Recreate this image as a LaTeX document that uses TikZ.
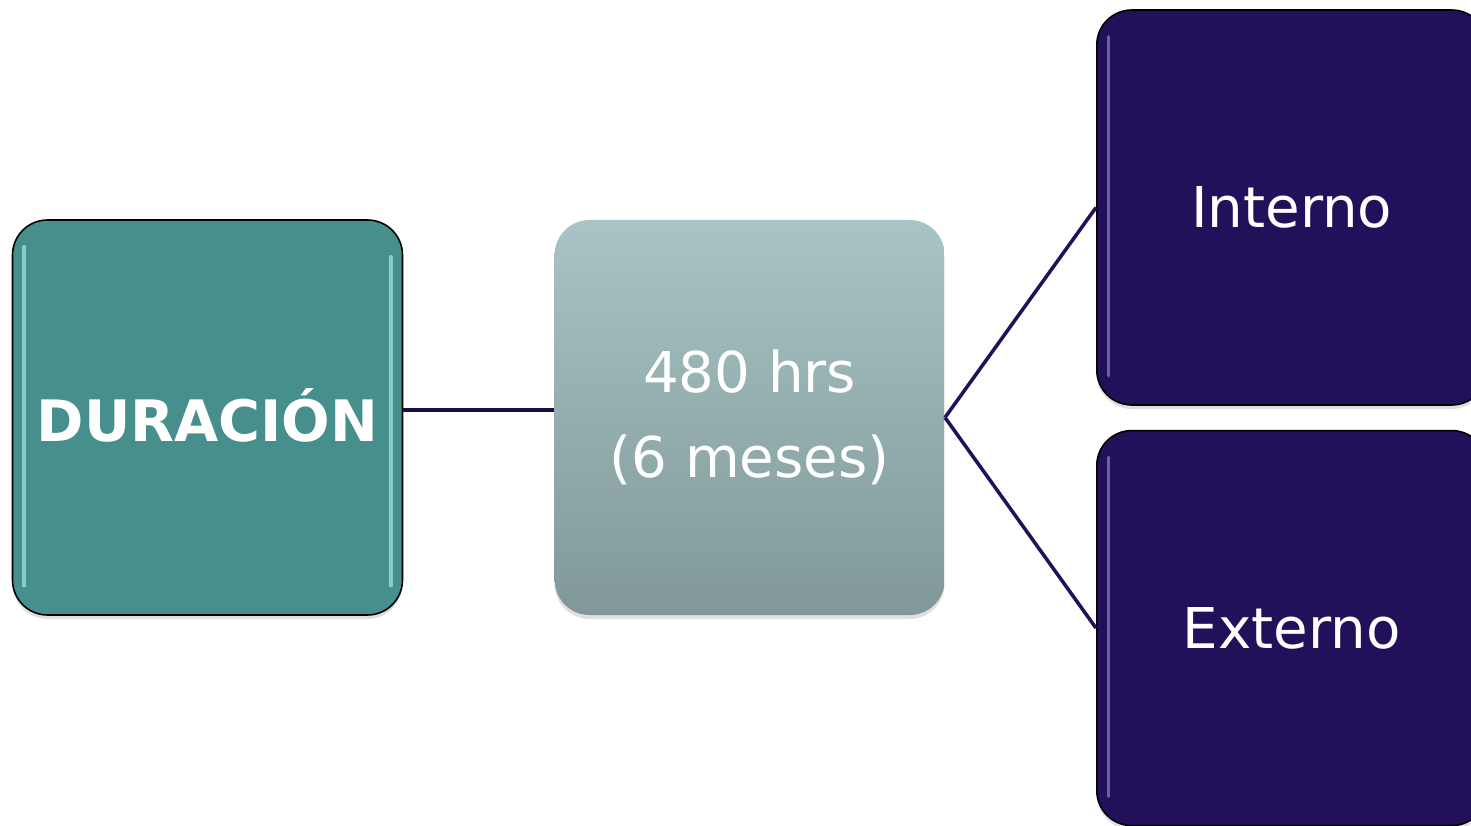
\documentclass[tikz,border=0pt]{standalone}
\usepackage{fontspec}
\setmainfont{DejaVu Sans}
\usetikzlibrary{positioning,shadows}
\definecolor{verde}{HTML}{468F8C}
\definecolor{brillov}{HTML}{A8E6E6}
\definecolor{gristop}{HTML}{A8C4C4}
\definecolor{grisbot}{HTML}{809899}
\definecolor{morado}{HTML}{22115A}
\definecolor{brillom}{HTML}{8C80CC}
\definecolor{linea}{HTML}{1A0F45}

\begin{document}
\begin{tikzpicture}[
    caja/.style={rectangle, rounded corners=0.7cm, text=white, align=center,
      minimum width=7.8cm, minimum height=7.9cm, inner sep=0pt,
      drop shadow={opacity=0.25, shadow xshift=0cm, shadow yshift=-0.08cm}},
    durbox/.style={caja, draw=black, line width=0.9pt, fill=verde,
      font=\fontsize{32.5}{40}\selectfont\bfseries},
    hrsbox/.style={caja, top color=gristop, bottom color=grisbot,
      font=\fontsize{32}{48}\selectfont},
    tipobox/.style={caja, draw=black, line width=0.9pt, fill=morado,
      font=\fontsize{32}{40}\selectfont},
    brillo/.style={line width=2pt, opacity=0.7, line cap=round}]
  \useasboundingbox (0,0) rectangle (29.42,-16.52);
  \node[durbox] (dur) at (4.15,-8.35) {\raisebox{0.1cm}{DURACIÓN}};
  \node[hrsbox, right=3.02cm of dur] (hrs) {480 hrs\\(6 meses)};
  \node[tipobox, right=3.02cm of hrs, yshift=4.2cm] (int) {Interno};
  \node[tipobox, below=0.48cm of int] (ext) {Externo};
  \draw[brillo, draw=brillov]
    ([shift={(0.25,-0.55)}]dur.north west) -- ([shift={(0.25,0.6)}]dur.south west)
    ([shift={(-0.25,-0.75)}]dur.north east) -- ([shift={(-0.25,0.6)}]dur.south east);
  \foreach \n in {int,ext}
    \draw[brillo, draw=brillom]
      ([shift={(0.25,-0.55)}]\n.north west) -- ([shift={(0.25,0.6)}]\n.south west);
  \path[line width=2.8pt, draw=linea]
  ([yshift=0.15cm]dur.east) edge ([yshift=0.15cm]hrs.west);
  \path[line width=2pt, draw=morado]
  (hrs.east) edge (int.west)
  (hrs.east) edge (ext.west);
\end{tikzpicture}
\end{document}
